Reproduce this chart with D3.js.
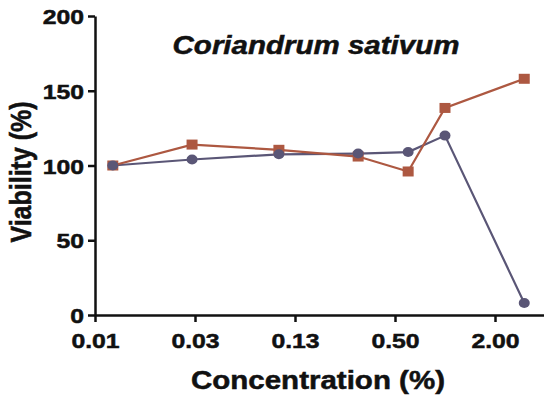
<!DOCTYPE html>
<html><head><meta charset="utf-8">
<script src="https://cdn.jsdelivr.net/npm/d3@7"></script>
<style>body{margin:0;background:#fff}svg{display:block}text{font-family:"Liberation Sans",Arial,sans-serif;font-weight:bold}</style>
</head><body><svg id="c" width="544" height="395"></svg>
<script>
const concentrations = [0.01, 0.03, 0.1, 0.3, 0.6, 1, 3];
const seriesCircle = [100, 104, 107.5, 108, 109, 120, 8];
const seriesSquare = [100, 114, 110.5, 106, 96, 138.5, 158];
const xTickValues = [Math.pow(2,-7), Math.pow(2,-5), Math.pow(2,-3), Math.pow(2,-1), Math.pow(2,1)];
const xTickLabels = ["0.01", "0.03", "0.13", "0.50", "2.00"];
const yTickValues = [0, 50, 100, 150, 200];
const title = "Coriandrum sativum";
const xTitle = "Concentration (%)";
const yTitle = "Viability (%)";

const STRETCH = 1.18;
const svg = d3.select("#c");
const x = d3.scaleLog().base(2).domain([Math.pow(2,-7), 4]).range([95, 545]);
const y = d3.scaleLinear().domain([0, 200]).range([315, 16]);

const gx = svg.append("g").attr("transform", "translate(0,315)")
  .call(d3.axisBottom(x).tickValues(xTickValues).tickFormat((d,i)=>xTickLabels[i]).tickSize(7).tickSizeOuter(0).tickPadding(5));
const gy = svg.append("g").attr("transform", "translate(95,0)")
  .call(d3.axisLeft(y).tickValues(yTickValues).tickSize(7).tickSizeOuter(0).tickPadding(4));
[gx, gy].forEach(g => {
  g.select(".domain").attr("stroke", "#111").attr("stroke-width", 2.5);
  g.selectAll(".tick line").attr("stroke", "#111").attr("stroke-width", 2.5);
  g.selectAll(".tick text").attr("fill", "#111").attr("stroke", "#111").attr("stroke-width", 0.5)
    .style("font-size", "21px").style("font-family", '"Liberation Sans",Arial,sans-serif').style("font-weight", "bold");
});
gx.selectAll(".tick text").attr("dy", "1.0em");
gy.selectAll(".tick text").attr("dy", "0.36em");

const line = d3.line().x((d,i)=>x(concentrations[i])).y(d=>y(d));
const cPurple = "#5a5676", cOrange = "#ad5841";
svg.append("path").datum(seriesCircle).attr("d", line).attr("fill","none").attr("stroke", cPurple).attr("stroke-width", 2.2);
svg.append("path").datum(seriesSquare).attr("d", line).attr("fill","none").attr("stroke", cOrange).attr("stroke-width", 2.2);
svg.selectAll(".sq").data(seriesSquare).join("rect")
  .attr("x",(d,i)=>x(concentrations[i])-5.5).attr("y",d=>y(d)-5).attr("width",11).attr("height",10).attr("fill", cOrange);
svg.selectAll(".ci").data(seriesCircle).join("ellipse")
  .attr("cx",(d,i)=>x(concentrations[i])).attr("cy",d=>y(d)).attr("rx",5.5).attr("ry",5).attr("fill", cPurple);

svg.append("text").attr("class","st").attr("x", 316).attr("y", 54).attr("text-anchor","middle").style("font-size","25px").style("font-style","italic").attr("fill","#111").attr("stroke","#111").attr("stroke-width",0.5).text(title);
svg.append("text").attr("class","st").attr("x", 318).attr("y", 389).attr("text-anchor","middle").style("font-size","25px").attr("fill","#111").attr("stroke","#111").attr("stroke-width",0.5).text(xTitle);
svg.append("text").attr("transform",`translate(31,172) scale(${STRETCH},1) rotate(-90)`).attr("text-anchor","middle").style("font-size","25px").attr("fill","#111").attr("stroke","#111").attr("stroke-width",0.5).text(yTitle);

// horizontal stretch of horizontal texts
svg.selectAll(".tick text, text.st").each(function(){
  const L = this.getComputedTextLength();
  d3.select(this).attr("textLength", L*STRETCH).attr("lengthAdjust","spacingAndGlyphs");
});
</script></body></html>
